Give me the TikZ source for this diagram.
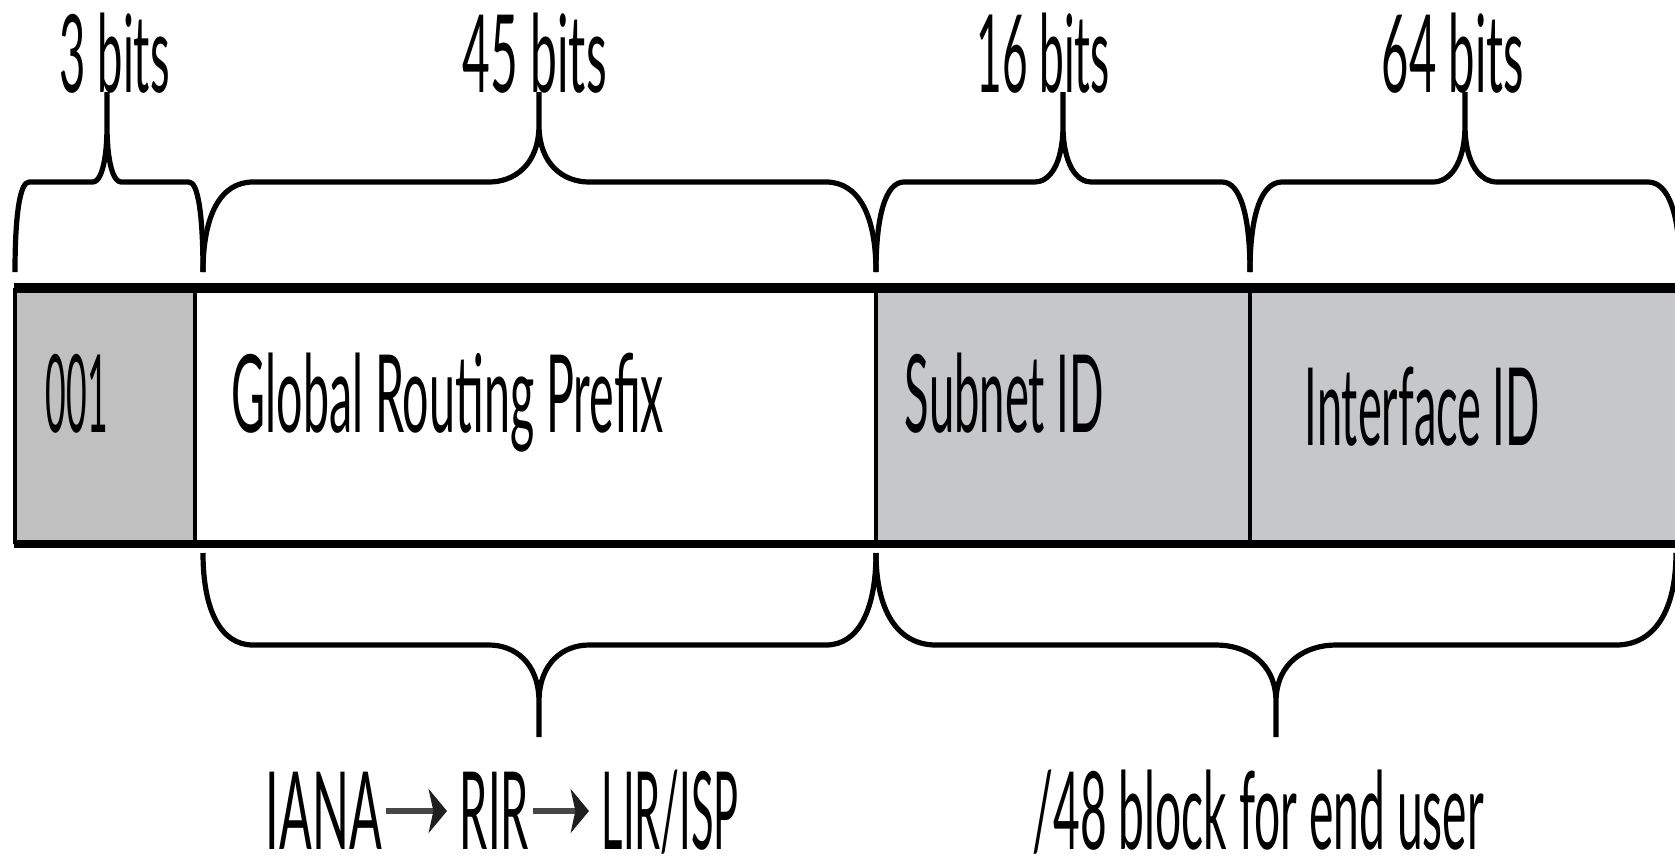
\documentclass[tikz,border=0pt]{standalone}
\usepackage{fontspec}
\setmainfont{Lato}
\usepackage{graphicx}
\usetikzlibrary{arrows.meta}

% one drawing unit = 0.25pt; y grows downwards
\newdimen\unitpx \unitpx=0.25pt
% set a text to a given width, keeping its natural height (narrow face)
\newcommand{\fitw}[2]{\resizebox{#1\unitpx}{\height}{#2}}
% same, with no depth below the baseline
\newcommand{\fitwflat}[2]{\raisebox{0pt}[\height][0pt]{\resizebox{#1\unitpx}{\height}{#2}}}
\newcommand{\labelfont}{\fontsize{27}{30}\selectfont}

\definecolor{prefixgray}{RGB}{192,192,192}
\definecolor{cellgray}{RGB}{198,199,201}

% curly brace above the field: left end, right end, tip, curve size
\newcommand{\topbrace}[4]{%
  \draw[bracepath] (#1,272) .. controls (#1,215) and ({#1+0.35*#4},182) .. ({#1+#4},182)
    -- ({#3-#4},182) .. controls ({#3-0.5*#4},182) and (#3,165) .. (#3,125) -- (#3,92)
    (#3,125) .. controls (#3,165) and ({#3+0.5*#4},182) .. ({#3+#4},182)
    -- ({#2-#4},182) .. controls ({#2-0.35*#4},182) and (#2,215) .. (#2,272);}
% curly brace below the field
\newcommand{\botbrace}[4]{%
  \draw[bracepath] (#1,553) .. controls (#1,610) and ({#1+0.35*#4},645) .. ({#1+#4},645)
    -- ({#3-#4},645) .. controls ({#3-0.5*#4},645) and (#3,662) .. (#3,702) -- (#3,737)
    (#3,702) .. controls (#3,662) and ({#3+0.5*#4},645) .. ({#3+#4},645)
    -- ({#2-#4},645) .. controls ({#2-0.35*#4},645) and (#2,610) .. (#2,553);}

\begin{document}
\begin{tikzpicture}[x=0.25pt, y=-0.25pt,
  lbl/.style={inner sep=0pt, anchor=base west, font=\labelfont},
  bracepath/.style={line width=1.3pt, line cap=butt, line join=round},
  edgeline/.style={line width=2.3pt},
  divider/.style={line width=1pt},
  flowarrow/.style={line width=1.6pt, draw=black!72,
    -{Stealth[length=4.6pt, width=11pt, inset=1.2pt, color=black!88]}}]

\useasboundingbox[fill=white] (0,0) rectangle (1675,859);

% address fields
\fill[prefixgray] (15,288) rectangle (195,544);
\fill[cellgray] (876,288) rectangle (1695,544);
\draw[divider] (15,288) -- (15,544);
\draw[divider] (195,288) -- (195,544);
\draw[divider] (876,288) -- (876,544);
\draw[divider] (1250,288) -- (1250,544);
\draw[edgeline] (14,288) -- (1695,288);
\draw[edgeline, line width=2pt] (14,544) -- (1695,544);

% field texts
\node[lbl] (f001) at (45,432) {\fitw{62}{001}};
\node[lbl] (fgrp) at (231,432) {\fitw{432}{Global Routing Prefix}};
\node[lbl] (fsub) at (904,432) {\fitw{199}{Subnet ID}};
\node[lbl] (fiid) at (1304,445) {\fitw{235}{Interface ID}};

% widths above
\topbrace{15}{203}{107}{14}
\topbrace{203}{876}{539}{50}
\topbrace{876}{1250}{1063}{28}
\topbrace{1250}{1680}{1465}{32}

\node[lbl] (w3) at (59,92) {\fitw{110}{3 bits}};
\node[lbl] (w45) at (462,92) {\fitw{144}{45 bits}};
\node[lbl] (w16) at (976,92) {\fitw{133}{16 bits}};
\node[lbl] (w64) at (1381,92) {\fitw{142}{64 bits}};

% allocation below
\botbrace{203}{876}{539}{50}
\botbrace{876}{1676}{1276}{60}

\node[lbl] (iana) at (265,849) {\fitwflat{116}{IANA}};
\node[lbl] (rir) at (459,849) {\fitwflat{69}{RIR}};
\node[lbl] (lir) at (601,849) {\fitwflat{137}{LIR/ISP}};
\draw[flowarrow] ([xshift=0.75pt, yshift=9.5pt]iana.base east) -- ([xshift=-3pt, yshift=9.5pt]rir.base west);
\draw[flowarrow] ([xshift=0.75pt, yshift=9.5pt]rir.base east) -- ([xshift=-3pt, yshift=9.5pt]lir.base west);

\node[lbl] (enduser) at (1032,849) {\fitwflat{451}{/48 block for end user}};

\end{tikzpicture}
\end{document}
